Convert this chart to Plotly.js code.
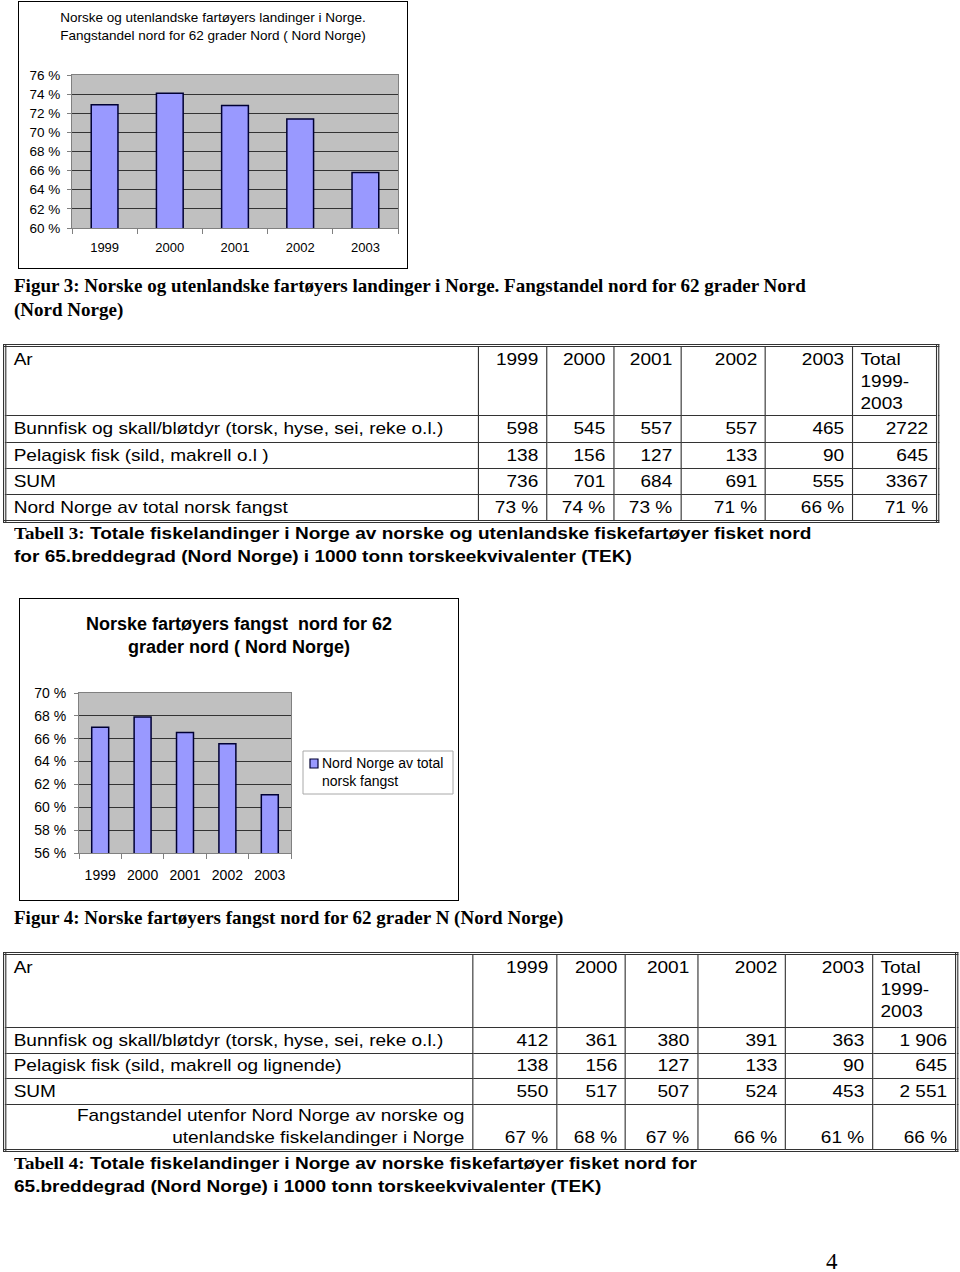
<!DOCTYPE html>
<html>
<head>
<meta charset="utf-8">
<script src="https://cdn.plot.ly/plotly-3.0.1.min.js"></script>
<style>
  html, body { margin:0; padding:0; background:#fff; }
  body { width:960px; height:1272px; position:relative; overflow:hidden; font-family:"Liberation Sans", Arial, sans-serif; color:#000; }
  .abs { position:absolute; }
  .frame { position:absolute; border:1.5px solid #000; box-sizing:border-box; pointer-events:none; }
  .cap { position:absolute; left:14px; font-weight:bold; line-height:23px; white-space:nowrap; }
  .serif { font-family:"Liberation Serif", "Times New Roman", serif; }
  .capsans { font-family:"Liberation Sans", Arial, sans-serif; font-size:17px; transform:scaleX(1.12); transform-origin:0 0; }
  table.t { position:absolute; border-collapse:collapse; border:3px double #333; font-size:17px; table-layout:fixed; transform:scaleX(1.12); transform-origin:0 0; }
  table.t td { border:1px solid #333; padding:0 7px 0 6.5px; vertical-align:top; line-height:22px; white-space:nowrap; }
  table.t td.n { text-align:right; }
</style>
</head>
<body>
<div id="c1" class="abs" style="left:18px;top:1px;width:390px;height:268px;"></div>
<div class="frame" style="left:18px;top:1px;width:390px;height:268px;"></div>

<div class="cap serif" style="top:274px;font-size:19px;line-height:24px;">Figur 3: Norske og utenlandske fartøyers landinger i Norge. Fangstandel nord for 62 grader Nord<br>(Nord Norge)</div>

<div id="t3"></div>
<div class="cap capsans" style="top:522px;"><span class="serif" style="font-size:17px;">Tabell 3:</span> Totale fiskelandinger i Norge av norske og utenlandske fiskefartøyer fisket nord<br>for 65.breddegrad (Nord Norge) i 1000 tonn torskeekvivalenter (TEK)</div>

<div id="c2" class="abs" style="left:19px;top:598px;width:440px;height:302px;"></div>
<div class="frame" style="left:19px;top:598px;width:440px;height:303px;"></div>

<div class="cap serif" style="top:906px;font-size:19px;line-height:24px;">Figur 4: Norske fartøyers fangst nord for 62 grader N (Nord Norge)</div>

<div id="t4"></div>
<div class="cap capsans" style="top:1152px;"><span class="serif" style="font-size:17px;">Tabell 4:</span> Totale fiskelandinger i Norge av norske fiskefartøyer fisket nord for<br>65.breddegrad (Nord Norge) i 1000 tonn torskeekvivalenter (TEK)</div>

<div class="abs serif" style="left:826px;top:1249px;font-size:23px;">4</div>

<script>
// ---- chart data ----
const years = ['1999', '2000', '2001', '2002', '2003'];
const shareAll = [72.9, 74.1, 72.8, 71.4, 65.8];      // Figur 3
const shareNorsk = [67.0, 67.9, 66.55, 65.55, 61.1];  // Figur 4
const title1 = 'Norske og utenlandske fartøyers landinger i Norge.<br>Fangstandel nord for 62 grader Nord ( Nord Norge)';
const title2 = 'Norske fartøyers fangst  nord for 62<br>grader nord ( Nord Norge)';
const legend2 = 'Nord Norge av total<br>norsk fangst';

// ---- table data ----
const tHeadYears = ['1999', '2000', '2001', '2002', '2003'];
const tHeadTotal = 'Total<br>1999-<br>2003';
const t3Labels = ['Bunnfisk og skall/bløtdyr (torsk, hyse, sei, reke o.l.)', 'Pelagisk fisk (sild, makrell o.l )', 'SUM', 'Nord Norge av total norsk fangst'];
const t3Bunn = ['598', '545', '557', '557', '465', '2722'];
const t3Pel = ['138', '156', '127', '133', '90', '645'];
const t3Sum = ['736', '701', '684', '691', '555', '3367'];
const t3Pct = ['73 %', '74 %', '73 %', '71 %', '66 %', '71 %'];
const t4Labels = ['Bunnfisk og skall/bløtdyr (torsk, hyse, sei, reke o.l.)', 'Pelagisk fisk (sild, makrell og lignende)', 'SUM', 'Fangstandel utenfor Nord Norge av norske og<br>utenlandske fiskelandinger i Norge'];
const t4Bunn = ['412', '361', '380', '391', '363', '1 906'];
const t4Pel = ['138', '156', '127', '133', '90', '645'];
const t4Sum = ['550', '517', '507', '524', '453', '2 551'];
const t4Pct = ['67 %', '68 %', '67 %', '66 %', '61 %', '66 %'];

const SX = 1.12; // horizontal stretch of the scanned page text
function buildTable(id, left, top, widths, rowH, labels, rows, lastRightAlign) {
  const w = widths.map(v => v / SX);
  let h = '<table class="t" style="left:' + left + 'px;top:' + top + 'px;width:' + w.reduce((a, b) => a + b, 0) + 'px;">';
  h += '<colgroup>' + w.map(x => '<col style="width:' + x + 'px">').join('') + '</colgroup>';
  h += '<tr style="height:' + rowH[0] + 'px"><td style="padding-top:2px">Ar</td>' +
       tHeadYears.map(y => '<td class="n" style="padding-top:2px">' + y + '</td>').join('') +
       '<td style="padding-top:2px">' + tHeadTotal + '</td></tr>';
  rows.forEach((r, i) => {
    const last = (i === rows.length - 1);
    const lab = (last && lastRightAlign)
      ? '<td style="text-align:right;">' + labels[i] + '</td>'
      : '<td style="vertical-align:middle;">' + labels[i] + '</td>';
    const va = (last && lastRightAlign) ? 'vertical-align:bottom;' : 'vertical-align:middle;';
    h += '<tr style="height:' + rowH[i + 1] + 'px">' + lab +
         r.map(v => '<td class="n" style="' + va + '">' + v + '</td>').join('') + '</tr>';
  });
  h += '</table>';
  document.getElementById(id).innerHTML = h;
}

buildTable('t3', 3, 344, [474, 68, 67, 67, 85, 87, 85], [69, 27, 26, 26, 27],
  t3Labels, [t3Bunn, t3Pel, t3Sum, t3Pct], false);
buildTable('t4', 3, 952, [468, 84, 69, 72, 88, 87, 84], [74, 26, 25, 26, 46],
  t4Labels, [t4Bunn, t4Pel, t4Sum, t4Pct], true);

// ---- charts ----
const font = { family: 'Liberation Sans, Arial, sans-serif', color: '#000' };
const barMarker = { color: '#9999ff', line: { color: '#000033', width: 1.5 } };

Plotly.newPlot('c1', [{
  type: 'bar', x: years, y: shareAll, width: 0.41, marker: barMarker, showlegend: false
}], {
  width: 390, height: 268,
  margin: { l: 54, r: 10, t: 74, b: 41 },
  paper_bgcolor: 'rgba(0,0,0,0)', plot_bgcolor: '#c0c0c0',
  font: Object.assign({ size: 13 }, font),
  title: { text: title1, font: Object.assign({ size: 13.5 }, font), x: 0.5, xanchor: 'center', y: 1 - 21 / 268, yanchor: 'middle', yref: 'container' },
  xaxis: { type: 'category', showline: true, linecolor: '#808080', linewidth: 1, mirror: true, ticks: 'outside', tickson: 'boundaries', ticklen: 5, tickcolor: '#808080', showgrid: false, tickfont: Object.assign({ size: 13 }, font), ticklabelstandoff: 7 },
  yaxis: { range: [60, 76], dtick: 2, tick0: 60, ticksuffix: ' %', showline: true, linecolor: '#808080', mirror: true, ticks: 'outside', ticklen: 4, tickcolor: '#808080', gridcolor: '#333333', gridwidth: 1, zeroline: false, tickfont: Object.assign({ size: 13.5 }, font), ticklabelstandoff: 4 },
  bargap: 0.59
}, { staticPlot: true, displayModeBar: false });

// legend box drawn with shapes/annotation (paper coords relative to plot area 60..272 x 95..255)
const pw = 212, ph = 160, ml = 60, mt = 95;
const px = v => (v - ml) / pw;
const py = v => (mt + ph - v) / ph;

Plotly.newPlot('c2', [{
  type: 'bar', x: years, y: shareNorsk, width: 0.4, marker: barMarker, name: legend2, showlegend: false
}], {
  width: 440, height: 302,
  margin: { l: ml, r: 440 - ml - pw, t: mt, b: 302 - mt - ph },
  paper_bgcolor: 'rgba(0,0,0,0)', plot_bgcolor: '#c0c0c0',
  font: Object.assign({ size: 14 }, font),
  title: { text: title2, font: Object.assign({ size: 18, weight: 'bold' }, font), x: 0.5, xanchor: 'center', y: 1 - 32 / 302, yanchor: 'middle', yref: 'container' },
  xaxis: { type: 'category', showline: true, linecolor: '#808080', mirror: true, ticks: 'outside', tickson: 'boundaries', ticklen: 5, tickcolor: '#808080', showgrid: false, tickfont: Object.assign({ size: 14 }, font), ticklabelstandoff: 9 },
  yaxis: { range: [56, 70], dtick: 2, tick0: 56, ticksuffix: ' %', showline: true, linecolor: '#808080', mirror: true, ticks: 'outside', ticklen: 4, tickcolor: '#808080', gridcolor: '#333333', gridwidth: 1, zeroline: false, tickfont: Object.assign({ size: 14 }, font), ticklabelstandoff: 5 },
  showlegend: false,
  shapes: [
    { type: 'rect', xref: 'paper', yref: 'paper', x0: px(284), x1: px(434), y0: py(196), y1: py(153), line: { color: '#a8a8a8', width: 1 }, fillcolor: '#fff' },
    { type: 'rect', xref: 'paper', yref: 'paper', x0: px(291), x1: px(299), y0: py(170), y1: py(161), line: { color: '#000033', width: 1.2 }, fillcolor: '#9999ff' }
  ],
  annotations: [
    { xref: 'paper', yref: 'paper', x: px(301), y: py(174), xanchor: 'left', yanchor: 'middle', align: 'left', showarrow: false, text: legend2, font: Object.assign({ size: 14 }, font) }
  ]
}, { staticPlot: true, displayModeBar: false });
</script>
</body>
</html>
